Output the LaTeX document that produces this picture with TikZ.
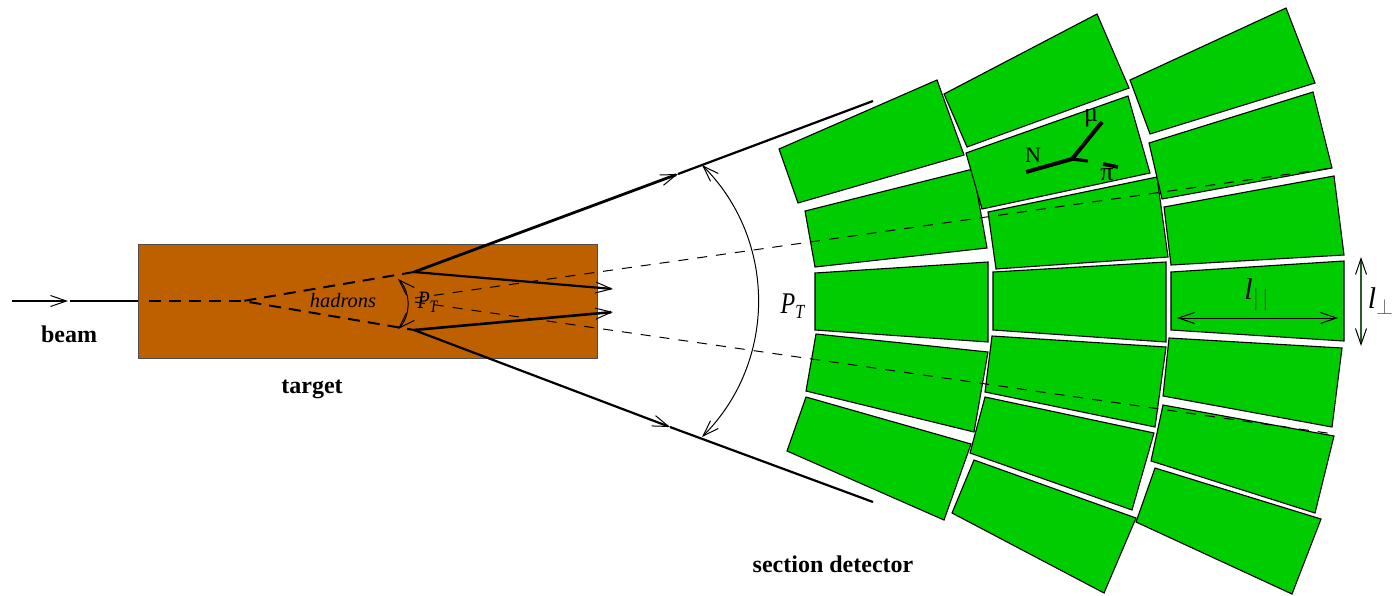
\documentclass[tikz,border=0pt]{standalone}
\usepackage{fontspec}
\setmainfont{Liberation Serif}
\usetikzlibrary{arrows.meta,positioning}
\definecolor{targetbrown}{RGB}{191,96,0}
\definecolor{detgreen}{RGB}{0,205,0}
\definecolor{lengreen}{RGB}{40,90,40}

\begin{document}
\begin{tikzpicture}[
    x=0.5pt, y=-0.5pt,
    >={Straight Barb[length=8pt,width=5.5pt,line width=0.5pt]},
    block/.style = {draw, fill=detgreen, line width=0.55pt, line join=miter},
    targetbox/.style = {draw=black!70, fill=targetbrown, line width=0.5pt, minimum width=229.5pt, minimum height=57pt, inner sep=0pt, outer sep=0pt},
    jet/.style = {line width=1.1pt},
    track/.style = {line width=2pt},
    thindash/.style = {line width=0.5pt, dash pattern=on 5pt off 4.5pt},
    thickdash/.style = {line width=1pt, dash pattern=on 6pt off 4pt},
    thinline/.style = {line width=0.5pt},
    bold/.style = {font=\fontsize{12}{14}\selectfont\bfseries, inner sep=0pt},
    sym/.style = {font=\fontsize{11}{13}\selectfont, inner sep=0pt},
    mathlabel/.style = {inner sep=0pt, yscale=1.25, transform shape}
]
\useasboundingbox (0,0) rectangle (1395,595);

% Target
\node[targetbox] (target) at (367.5,301) {};

% Beam
\coordinate (beamstart) at (12,301);
\coordinate (beamtip)   at (68,301);
\coordinate (dashstart) at (149,301);
\coordinate (apex)      at (243,301);
\coordinate (vtop)      at (414,272);
\coordinate (vbot)      at (414,330);
\draw[thinline,line width=0.8pt,->] (beamstart) -- (beamtip);
\draw[thinline,line width=0.8pt] (beamtip) ++(2,0) -- (target.west);
\draw[thickdash] (dashstart) -- (apex);
\draw[thickdash] (vtop) -- (apex) -- (vbot);

% Jets
\coordinate (jettop) at (678,174);
\coordinate (jetbot) at (670,427);
\coordinate (jetend) at (873,101);
\coordinate (jetlow) at (873,502);
\coordinate (intop)  at (613,289);
\coordinate (inbot)  at (613,312);
\draw[jet,line width=1.4pt,->] (vtop) -- (jettop);
\draw[jet] (jettop) -- (jetend);
\draw[jet,->] (vbot) -- (jetbot);
\draw[jet] (jetbot) -- (jetlow);
\draw[jet,->] (vtop) -- (intop);
\draw[jet,line width=1.3pt,->] (vbot) -- (inbot);

% Column 1
\draw[block] (779,149) -- (937,80) -- (964,155) -- (798,203) -- cycle;
\draw[block] (805,211) -- (973,169) -- (987,248) -- (815,267) -- cycle;
\draw[block] (815,273) -- (988,262) -- (988,342) -- (815,330) -- cycle;
\draw[block] (816,334) -- (988,352) -- (974,432) -- (806,391) -- cycle;
\draw[block] (806,397) -- (971,444) -- (944,520) -- (787,451) -- cycle;

% Column 2
\draw[block] (944,94) -- (1097,14) -- (1129,88) -- (967,147) -- cycle;
\draw[block] (966,153) -- (1128,96) -- (1150,173) -- (982,209) -- cycle;
\draw[block] (988,212) -- (1157,177) -- (1168,257) -- (996,269) -- cycle;
\draw[block] (993,272) -- (1166,262) -- (1166,342) -- (993,330) -- cycle;
\draw[block] (992,336) -- (1166,347) -- (1155,427) -- (985,392) -- cycle;
\draw[block] (985,397) -- (1154,433) -- (1132,510) -- (970,453) -- cycle;
\draw[block] (974,460) -- (1136,518) -- (1104,593) -- (952,513) -- cycle;

% Column 3
\draw[block] (1130,80) -- (1286,8) -- (1315,83) -- (1150,134) -- cycle;
\draw[block] (1149,143) -- (1313,92) -- (1332,168) -- (1162,199) -- cycle;
\draw[block] (1164,207) -- (1334,176) -- (1344,255) -- (1171,265) -- cycle;
\draw[block] (1171,272) -- (1344,261) -- (1344,341) -- (1171,330) -- cycle;
\draw[block] (1169,338) -- (1342,348) -- (1332,427) -- (1163,396) -- cycle;
\draw[block] (1163,405) -- (1334,436) -- (1315,513) -- (1151,461) -- cycle;
\draw[block] (1155,468) -- (1321,519) -- (1292,594) -- (1136,522) -- cycle;

% Dashed lines
\coordinate (upstart)  at (415,298);
\coordinate (upend)    at (1332,168);
\coordinate (lowstart) at (415,302);
\coordinate (lowend)   at (1334,434);
\draw[thindash] (upstart) -- (upend);
\draw[thindash] (lowstart) -- (lowend);

% Angle arcs
\coordinate (arctop)   at (702,165);
\coordinate (arcbot)   at (702,437);
\coordinate (smalltop) at (398,279);
\coordinate (smallbot) at (398,329);
\draw[thinline,<->] (arctop) .. controls (777,240) and (777,362) .. (arcbot);
\draw[thinline,<->] (smalltop) .. controls (411,292) and (411,316) .. (smallbot);

% Event
\coordinate (vertex)  at (1072,159);
\coordinate (nend)    at (1026,172);
\coordinate (muend)   at (1102,122);
\coordinate (piend)   at (1088,161);
\coordinate (barleft) at (1103,164);
\coordinate (barright) at (1118,167);
\draw[track] (nend) -- (vertex) -- (muend);
\draw[track,line width=1.6pt] (vertex) -- (piend);
\draw[track,line width=1.8pt] (barleft) -- (barright);

% Lengths
\coordinate (parl) at (1177,318);
\coordinate (parr) at (1338,318);
\coordinate (perpt) at (1361,257);
\coordinate (perpb) at (1361,346);
\draw[thinline,<->] (parl) -- (parr);
\draw[draw=lengreen,line width=0.7pt,{Straight Barb[length=8pt,width=5.5pt,line width=0.5pt,color=black]}-{Straight Barb[length=8pt,width=5.5pt,line width=0.5pt,color=black]}] (perpt) -- (perpb);

% Labels
\node[bold] (beamlabel)    at (69,334)   {beam};
\node[bold] (targetlabel)  at (312,389)  {target};
\node[bold] (detlabel)     at (833,564)  {section detector};
\node[inner sep=0pt, font=\fontsize{10.2}{12}\selectfont\itshape] (hadronlabel) at (343,301) {hadrons};
\node[mathlabel, font=\fontsize{10}{12}\selectfont] (ptsmall) at (428,302) {$\mathit{P}_{\mathit{T}}$};
\node[mathlabel, font=\fontsize{12}{14}\selectfont] (ptlarge) at (793,306) {$\mathit{P}_{\mathit{T}}$};
\node[sym] (nlabel)  at (1033,155) {N};
\node[sym,font=\fontsize{13}{15}\selectfont] (mulabel) at (1091,118) {μ};
\node[sym,font=\fontsize{13}{15}\selectfont] (pilabel) at (1107,175) {π};
\node[inner sep=0pt, font=\fontsize{15}{18}\selectfont] (lparlabel) at (1257,295) {$\mathit{l}_{\textcolor{black!80}{|\,|}}$};
\node[inner sep=0pt, font=\fontsize{15}{18}\selectfont] (lperplabel) at (1381,301) {$\mathit{l}_{\textcolor{black!60}{\perp}}$};

\end{tikzpicture}
\end{document}
